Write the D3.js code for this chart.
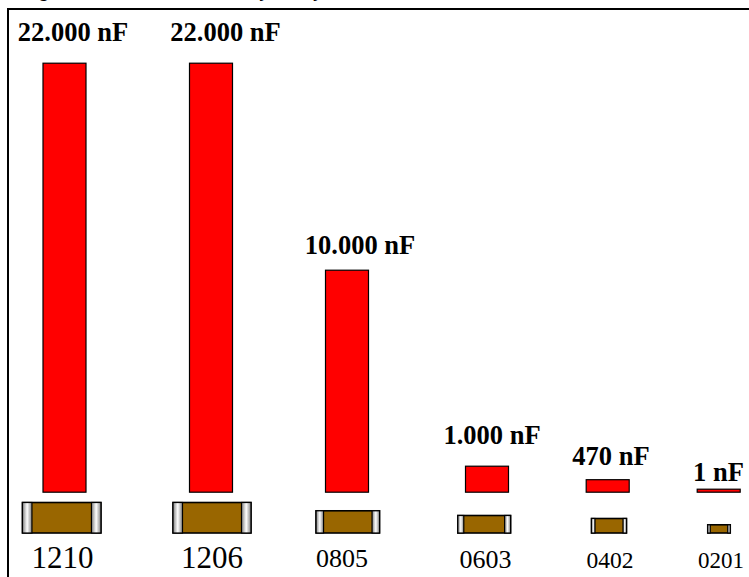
<!DOCTYPE html>
<html><head><meta charset="utf-8">
<style>html,body{margin:0;padding:0;background:#fff}svg{display:block}</style>
<script src="https://cdn.jsdelivr.net/npm/d3@7/dist/d3.min.js"></script>
</head><body><svg id="c" width="749" height="577"></svg>
<script>
// Highest capacitance available in each MLCC body size
const sizes = ["1210","1206","0805","0603","0402","0201"];
const capacitance = [22000,22000,10000,1000,470,1];
const capLabels = ["22.000 nF","22.000 nF","10.000 nF","1.000 nF","470 nF","1 nF"];
const bodyLength = [78.5,78,63.5,52.8,35,22.5];   // chip drawing length
const bodyHeight = [30.5,30.5,22.2,17.5,14.5,8.2]; // chip drawing height
const capWidth = [9.5,9.5,7.5,6,3.5,2.5];
const barCentre = [64.5,211,347,487,607.7,718.7];
const chipCentre = [61.7,212,347.8,484.2,609,719];
const sizeLabelCentre = [62.5,212,342,485.5,610,721];
const sizeLabelFont = [31,31,26,26,23.5,23];
const sizeLabelBase = [568,568,566.7,568,568,568];
const labelCentre = [73,225.5,360,492,611,718.5];
const labelBase = [41,41,254,444,465,481];

// Bar height scale: stepped through the anchor capacities
const capDomain = [1,470,1000,10000,22000];
const heightRange = [3,12.5,26,222,429];
const h = d3.scaleLinear().domain(capDomain).range(heightRange);

const svg = d3.select("#c");
const defs = svg.append("defs");
const g = defs.append("linearGradient").attr("id","metal");
[[0,"#808080"],[0.5,"#ffffff"],[1,"#808080"]].forEach(s=>g.append("stop").attr("offset",s[0]).attr("stop-color",s[1]));

const baseY = 492.2, chipBase = 533, barW = 43;
const idx = d3.range(sizes.length);

// Frame open at the bottom and right
svg.append("path").attr("d","M8 577V9H749").attr("fill","none").attr("stroke","#000").attr("stroke-width",2);

// Title sits above the page edge, only its descenders show
svg.append("text").attr("x",18).attr("y",-3).attr("font-family","Liberation Sans").attr("font-size",21)
  .text("Highest Ceramic Values by Body Size");

svg.selectAll("rect.bar").data(idx).join("rect").attr("class","bar")
  .attr("x",i=>barCentre[i]-barW/2).attr("width",barW)
  .attr("y",i=>baseY-h(capacitance[i])).attr("height",i=>h(capacitance[i]))
  .attr("fill","#ff0000").attr("stroke","#000").attr("stroke-width",1.2);

svg.selectAll("text.cap").data(idx).join("text").attr("class","cap")
  .attr("x",i=>labelCentre[i]).attr("y",i=>labelBase[i]).attr("text-anchor","middle")
  .attr("font-family","Liberation Serif").attr("font-weight","bold").attr("font-size",26.5)
  .text(i=>capLabels[i]);

const chip = svg.selectAll("g.chip").data(idx).join("g").attr("class","chip")
  .attr("transform",i=>`translate(${chipCentre[i]-bodyLength[i]/2},${chipBase-bodyHeight[i]})`);
chip.append("rect").attr("width",i=>bodyLength[i]).attr("height",i=>bodyHeight[i])
  .attr("fill","#996600").attr("stroke","#000").attr("stroke-width",1.6);
chip.append("rect").attr("width",i=>capWidth[i]).attr("height",i=>bodyHeight[i])
  .attr("fill","url(#metal)").attr("stroke","#000").attr("stroke-width",1.2);
chip.append("rect").attr("x",i=>bodyLength[i]-capWidth[i]).attr("width",i=>capWidth[i]).attr("height",i=>bodyHeight[i])
  .attr("fill","url(#metal)").attr("stroke","#000").attr("stroke-width",1.2);

svg.selectAll("text.size").data(idx).join("text").attr("class","size")
  .attr("x",i=>sizeLabelCentre[i]).attr("y",i=>sizeLabelBase[i]).attr("text-anchor","middle")
  .attr("font-family","Liberation Serif").attr("font-size",i=>sizeLabelFont[i])
  .text(i=>sizes[i]);
</script></body></html>
